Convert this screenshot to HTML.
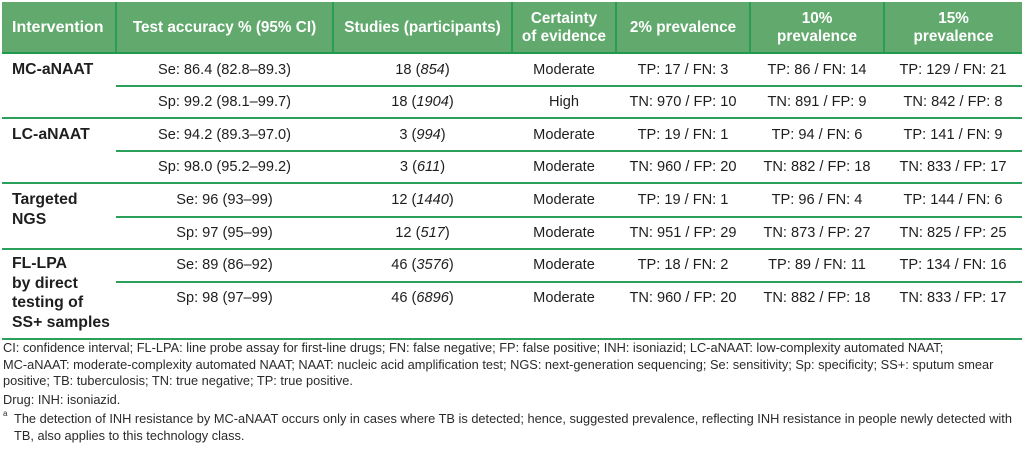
<!DOCTYPE html>
<html>
<head>
<meta charset="utf-8">
<style>
  html,body{margin:0;padding:0;background:#fff;}
  body{width:1024px;height:456px;position:relative;overflow:hidden;font-family:"Liberation Sans",Arial,sans-serif;color:#1e1e1e;}
  .a{position:absolute;}
  .hbg{left:2px;top:2px;width:1020px;height:51px;background:#61a96d;}
  .hb{left:2px;top:52px;width:1020px;height:2px;background:#1f9a50;}
  .vd{top:2px;width:2px;height:51px;background:#2a9d55;}
  .ln{height:2px;background:#2aa05a;}
  .h{color:#fff;font-weight:bold;font-size:15.3px;text-align:center;line-height:18px;display:flex;align-items:center;justify-content:center;top:2px;height:51px;}
  .c{font-size:14.6px;text-align:center;line-height:32px;height:32px;white-space:nowrap;}
  .iv{font-weight:bold;font-size:15.8px;line-height:19.5px;left:12px;}
  .fn{font-size:12.8px;line-height:16.5px;color:#2a2a2a;white-space:nowrap;left:3px;}
  i{font-style:italic;}
</style>
</head>
<body>
<!-- header -->
<div class="a hbg"></div>
<div class="a hb"></div>
<div class="a vd" style="left:115px"></div>
<div class="a vd" style="left:332px"></div>
<div class="a vd" style="left:511px"></div>
<div class="a vd" style="left:615px"></div>
<div class="a vd" style="left:749px"></div>
<div class="a vd" style="left:883px"></div>

<div class="a h" style="left:2px;width:113px;justify-content:flex-start;padding-left:10px;box-sizing:border-box;font-size:16px;">Intervention</div>
<div class="a h" style="left:117px;width:215px;">Test accuracy % (95% CI)</div>
<div class="a h" style="left:334px;width:177px;">Studies (participants)</div>
<div class="a h" style="left:513px;width:102px;">Certainty<br>of evidence</div>
<div class="a h" style="left:617px;width:132px;">2% prevalence</div>
<div class="a h" style="left:751px;width:132px;">10%<br>prevalence</div>
<div class="a h" style="left:885px;width:137px;">15%<br>prevalence</div>

<!-- lines -->
<div class="a ln" style="left:116px;top:85px;width:906px;"></div>
<div class="a ln" style="left:2px;top:117px;width:1020px;"></div>
<div class="a ln" style="left:116px;top:150px;width:906px;"></div>
<div class="a ln" style="left:2px;top:182px;width:1020px;"></div>
<div class="a ln" style="left:116px;top:216px;width:906px;"></div>
<div class="a ln" style="left:2px;top:248px;width:1020px;"></div>
<div class="a ln" style="left:116px;top:281px;width:906px;"></div>
<div class="a ln" style="left:2px;top:338px;width:1020px;"></div>

<!-- intervention names -->
<div class="a iv" style="top:60px;">MC-aNAAT</div>
<div class="a iv" style="top:125px;">LC-aNAAT</div>
<div class="a iv" style="top:190px;">Targeted<br>NGS</div>
<div class="a iv" style="top:254px;">FL-LPA<br>by direct<br>testing of<br>SS+ samples</div>

<!-- row 1 -->
<div class="a c" style="top:54px;left:116px;width:217px;">Se: 86.4 (82.8–89.3)</div>
<div class="a c" style="top:54px;left:333px;width:179px;">18 (<i>854</i>)</div>
<div class="a c" style="top:54px;left:512px;width:104px;">Moderate</div>
<div class="a c" style="top:54px;left:616px;width:134px;">TP: 17 / FN: 3</div>
<div class="a c" style="top:54px;left:750px;width:134px;">TP: 86 / FN: 14</div>
<div class="a c" style="top:54px;left:884px;width:138px;">TP: 129 / FN: 21</div>
<!-- row 2 -->
<div class="a c" style="top:86px;left:116px;width:217px;">Sp: 99.2 (98.1–99.7)</div>
<div class="a c" style="top:86px;left:333px;width:179px;">18 (<i>1904</i>)</div>
<div class="a c" style="top:86px;left:512px;width:104px;">High</div>
<div class="a c" style="top:86px;left:616px;width:134px;">TN: 970 / FP: 10</div>
<div class="a c" style="top:86px;left:750px;width:134px;">TN: 891 / FP: 9</div>
<div class="a c" style="top:86px;left:884px;width:138px;">TN: 842 / FP: 8</div>
<!-- row 3 -->
<div class="a c" style="top:119px;left:116px;width:217px;">Se: 94.2 (89.3–97.0)</div>
<div class="a c" style="top:119px;left:333px;width:179px;">3 (<i>994</i>)</div>
<div class="a c" style="top:119px;left:512px;width:104px;">Moderate</div>
<div class="a c" style="top:119px;left:616px;width:134px;">TP: 19 / FN: 1</div>
<div class="a c" style="top:119px;left:750px;width:134px;">TP: 94 / FN: 6</div>
<div class="a c" style="top:119px;left:884px;width:138px;">TP: 141 / FN: 9</div>
<!-- row 4 -->
<div class="a c" style="top:151px;left:116px;width:217px;">Sp: 98.0 (95.2–99.2)</div>
<div class="a c" style="top:151px;left:333px;width:179px;">3 (<i>611</i>)</div>
<div class="a c" style="top:151px;left:512px;width:104px;">Moderate</div>
<div class="a c" style="top:151px;left:616px;width:134px;">TN: 960 / FP: 20</div>
<div class="a c" style="top:151px;left:750px;width:134px;">TN: 882 / FP: 18</div>
<div class="a c" style="top:151px;left:884px;width:138px;">TN: 833 / FP: 17</div>
<!-- row 5 -->
<div class="a c" style="top:184px;left:116px;width:217px;">Se: 96 (93–99)</div>
<div class="a c" style="top:184px;left:333px;width:179px;">12 (<i>1440</i>)</div>
<div class="a c" style="top:184px;left:512px;width:104px;">Moderate</div>
<div class="a c" style="top:184px;left:616px;width:134px;">TP: 19 / FN: 1</div>
<div class="a c" style="top:184px;left:750px;width:134px;">TP: 96 / FN: 4</div>
<div class="a c" style="top:184px;left:884px;width:138px;">TP: 144 / FN: 6</div>
<!-- row 6 -->
<div class="a c" style="top:217px;left:116px;width:217px;">Sp: 97 (95–99)</div>
<div class="a c" style="top:217px;left:333px;width:179px;">12 (<i>517</i>)</div>
<div class="a c" style="top:217px;left:512px;width:104px;">Moderate</div>
<div class="a c" style="top:217px;left:616px;width:134px;">TN: 951 / FP: 29</div>
<div class="a c" style="top:217px;left:750px;width:134px;">TN: 873 / FP: 27</div>
<div class="a c" style="top:217px;left:884px;width:138px;">TN: 825 / FP: 25</div>
<!-- row 7 -->
<div class="a c" style="top:249px;left:116px;width:217px;">Se: 89 (86–92)</div>
<div class="a c" style="top:249px;left:333px;width:179px;">46 (<i>3576</i>)</div>
<div class="a c" style="top:249px;left:512px;width:104px;">Moderate</div>
<div class="a c" style="top:249px;left:616px;width:134px;">TP: 18 / FN: 2</div>
<div class="a c" style="top:249px;left:750px;width:134px;">TP: 89 / FN: 11</div>
<div class="a c" style="top:249px;left:884px;width:138px;">TP: 134 / FN: 16</div>
<!-- row 8 -->
<div class="a c" style="top:282px;left:116px;width:217px;">Sp: 98 (97–99)</div>
<div class="a c" style="top:282px;left:333px;width:179px;">46 (<i>6896</i>)</div>
<div class="a c" style="top:282px;left:512px;width:104px;">Moderate</div>
<div class="a c" style="top:282px;left:616px;width:134px;">TN: 960 / FP: 20</div>
<div class="a c" style="top:282px;left:750px;width:134px;">TN: 882 / FP: 18</div>
<div class="a c" style="top:282px;left:884px;width:138px;">TN: 833 / FP: 17</div>

<!-- footnotes -->
<div class="a fn" style="top:340px;">CI: confidence interval; FL-LPA: line probe assay for first-line drugs; FN: false negative; FP: false positive; INH: isoniazid; LC-aNAAT: low-complexity automated NAAT;<br>MC-aNAAT: moderate-complexity automated NAAT; NAAT: nucleic acid amplification test; NGS: next-generation sequencing; Se: sensitivity; Sp: specificity; SS+: sputum smear<br>positive; TB: tuberculosis; TN: true negative; TP: true positive.</div>
<div class="a fn" style="top:392px;">Drug: INH: isoniazid.</div>
<div class="a fn" style="top:409px;font-size:8px;line-height:10px;">a</div>
<div class="a fn" style="top:411px;left:14px;">The detection of INH resistance by MC-aNAAT occurs only in cases where TB is detected; hence, suggested prevalence, reflecting INH resistance in people newly detected with<br>TB, also applies to this technology class.</div>
</body>
</html>
